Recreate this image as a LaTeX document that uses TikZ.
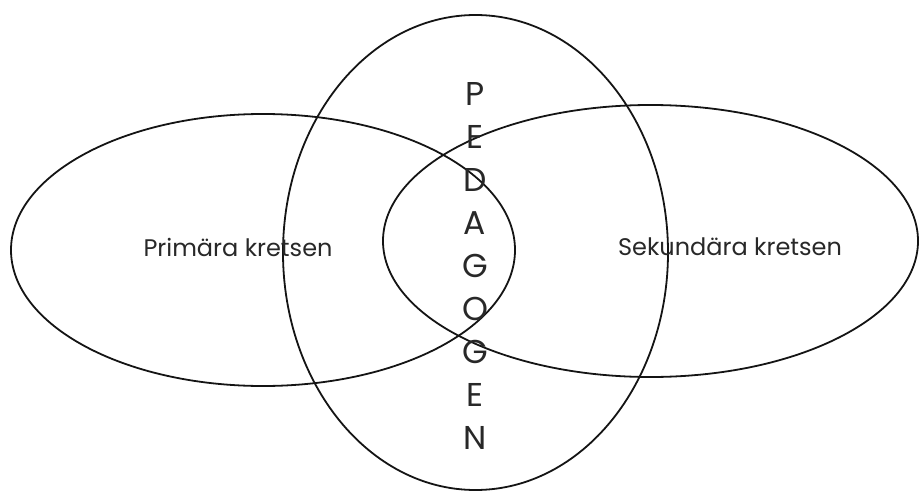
\documentclass[tikz,border=0pt]{standalone}
\usepackage{fontspec}
\setmainfont{Poppins}
\usepackage{tikz}
\usetikzlibrary{positioning}
\definecolor{vennInk}{RGB}{20,20,20}
\definecolor{vennText}{RGB}{40,40,40}

\begin{document}
\begin{tikzpicture}[x=1pt,y=-1pt,
    krets/.style={draw=vennInk,line width=1.8pt},
    lbl/.style={text=vennText,font=\fontsize{24}{28}\selectfont,inner sep=0pt},
    bokstav/.style={text=vennText,font=\fontsize{33}{36}\selectfont,inner sep=0pt}]
    \useasboundingbox (0,0) rectangle (920,492);
    \draw[krets] (263,250) ellipse [x radius=252,y radius=136];
    \draw[krets] (650.5,241) ellipse [x radius=267.5,y radius=136];
    \draw[krets] (475.5,252.5) ellipse [x radius=192.5,y radius=237.5];
    \node[lbl] (prim) at (238,247) {Primära kretsen};
    \node[lbl] (sek) at (730,247) {Sekundära kretsen};
    \foreach \ch [count=\i] in {P,E,D,A,G,O,G,E,N}
      \node[bokstav] (ped\i) at (475,51+43*\i) {\ch};
  \end{tikzpicture}
\end{document}
